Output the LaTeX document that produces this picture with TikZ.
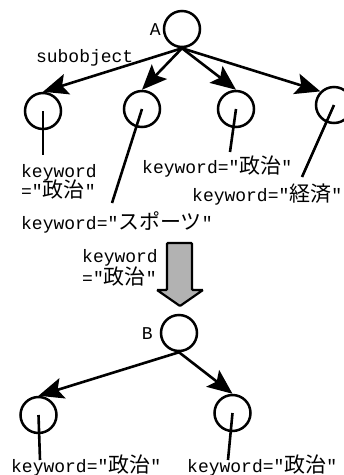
\documentclass[tikz,border=0pt]{standalone}
\usepackage{fontspec}
\setmainfont{Liberation Mono}
\newfontfamily\jp{Noto Sans CJK JP}
\newcommand\ja[1]{{\jp\fontsize{21}{22}\selectfont #1}}
\usetikzlibrary{arrows.meta}
\begin{document}
\begin{tikzpicture}[x=1pt,y=-1pt,
        obj/.style={circle,draw,line width=2.5pt,minimum size=36pt,inner sep=0pt},
        kw/.style={inner sep=0pt,anchor=base west,align=left,font=\fontsize{18}{22}\selectfont},
        sub/.style={line width=2.6pt,-{Stealth[length=25pt,width=21pt,inset=5pt]}},
        stem/.style={line width=2.6pt}]
    \useasboundingbox (0,0) rectangle (344,475);
    \clip (0,0) rectangle (344,475);

    \node[obj] (A)  at (182,29)  {};
    \node[kw,anchor=base east] (la) at (161,35) {A};
    \node[obj] (s1) at (43,111)  {};
    \node[obj] (s2) at (142,109) {};
    \node[obj] (s3) at (236,109) {};
    \node[obj] (s4) at (334,105) {};

    \draw[sub] (A.south) -- node[kw,pos=.7,above=11pt] (sb) {subobject} (s1.north);
    \draw[sub] (A.south) -- (s2.north);
    \draw[sub] (A.south) -- (s3.north);
    \draw[sub] (A.south) -- (s4.north west);

    \coordinate (e1) at (43,155);
    \coordinate (e2) at (112,203);
    \coordinate (e3) at (230,152);
    \coordinate (e4) at (302,177);
    \draw[stem] (s1.center) -- (e1);
    \draw[stem] (s2.center) -- (e2);
    \draw[stem] (s3.center) -- (e3);
    \draw[stem] (s4.center) -- (e4);

    \node[kw] (k1) at (21,197)  {keyword\\[-2pt]=″\ja{政治}″};
    \node[kw] (k2) at (21,229)  {keyword=″\ja{スポーツ}″};
    \node[kw] (k3) at (142,173) {keyword=″\ja{政治}″};
    \node[kw] (k4) at (192,201) {keyword=″\ja{経済}″};

    % filter
    \draw[line width=2.2pt,fill=gray!60,rounded corners=1pt]
        (167,243) -- (192,243) -- (192,290) -- (203,290) -- (180,306)
        -- (157,290) -- (167,290) -- cycle;
    \node[kw] (kf) at (82,284) {keyword\\=″\ja{政治}″};

    \node[obj] (B)  at (179,333)   {};
    \node[kw,anchor=base east] (lb) at (153,339) {B};
    \node[obj] (t1) at (38.5,415)  {};
    \node[obj] (t2) at (232.5,413) {};

    \draw[sub] (B.south) -- (t1.north);
    \draw[sub] (B.south) -- (t2.north);

    \coordinate (f1) at (40,460);
    \coordinate (f2) at (228,460);
    \draw[stem] (t1.center) -- (f1);
    \draw[stem] (t2.center) -- (f2);

    \node[kw] (m1) at (11,472.5)  {keyword=″\ja{政治}″};
    \node[kw] (m2) at (187,472.5) {keyword=″\ja{政治}″};
\end{tikzpicture}
\end{document}
